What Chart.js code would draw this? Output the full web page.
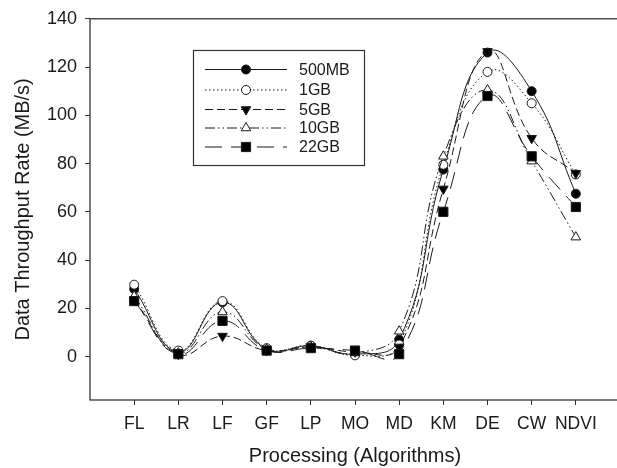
<!DOCTYPE html>
<html><head><meta charset="utf-8">
<script src="https://cdn.jsdelivr.net/npm/chart.js@4.4.0/dist/chart.umd.min.js"></script>
<style>
html,body{margin:0;padding:0;overflow:hidden;background:#fff;width:617px;height:468px}
#wrap{width:630px;height:468px;position:relative}
</style></head>
<body><div id="wrap"><canvas id="c"></canvas></div>
<script>
const categories = ['FL','LR','LF','GF','LP','MO','MD','KM','DE','CW','NDVI'];
const seriesNames = ['500MB','1GB','5GB','10GB','22GB'];
const s500MB = [28, 2, 22.5, 3, 4.5, 1, 7, 77.5, 126, 110, 67.5];
const s1GB   = [29.8, 2.5, 23, 3.5, 4.5, 0.5, 5, 79.5, 118, 105, 75.5];
const s5GB   = [23.5, 1, 8.5, 2.5, 4, 2, 4, 69.5, 126.5, 90.5, 76];
const s10GB  = [25, 1.5, 18.5, 3, 4, 1.5, 10.5, 83, 110.5, 81, 49.5];
const s22GB  = [23, 1, 14.8, 2.5, 3.5, 2.5, 1, 60, 108, 83, 62];
const yTicks = [0, 20, 40, 60, 80, 100, 120, 140];

const seriesValues = [s500MB, s1GB, s5GB, s10GB, s22GB];
const styles = [
  {dash: [], ps: 'circle', fill: '#000', r: 4.5, rot: 0},
  {dash: [1.5, 2.5], ps: 'circle', fill: '#fff', r: 4.5, rot: 0},
  {dash: [8, 4], ps: 'triangle', fill: '#000', r: 5.5, rot: 180},
  {dash: [10, 3, 1.5, 3, 1.5, 3], ps: 'triangle', fill: '#fff', r: 5.5, rot: 0},
  {dash: [17, 9], ps: 'rect', fill: '#000', r: 6.5, rot: 0}
];
const FONT = "'Liberation Sans', Arial, sans-serif";
const INK = '#1a1a1a';

const datasets = seriesNames.map((name, i) => ({
  label: name,
  data: seriesValues[i].map((v, j) => ({x: j + 1, y: v})),
  borderColor: INK,
  borderWidth: 1,
  borderDash: styles[i].dash,
  backgroundColor: styles[i].fill,
  pointBackgroundColor: styles[i].fill,
  pointBorderColor: INK,
  pointBorderWidth: 1,
  pointStyle: styles[i].ps,
  pointRotation: styles[i].rot,
  pointRadius: styles[i].r,
  pointHoverRadius: styles[i].r,
  tension: 0.45,
  fill: false,
  order: -i
}));

function marker(ctx, st, x, y) {
  ctx.save();
  ctx.setLineDash([]);
  ctx.fillStyle = st.fill;
  ctx.strokeStyle = INK;
  ctx.lineWidth = 1;
  ctx.beginPath();
  const r = st.r;
  if (st.ps === 'circle') {
    ctx.arc(x, y, r, 0, Math.PI * 2);
  } else if (st.ps === 'rect') {
    const s = Math.SQRT1_2 * r;
    ctx.rect(x - s, y - s, 2 * s, 2 * s);
  } else {
    let rad = st.rot * Math.PI / 180;
    ctx.moveTo(x + Math.sin(rad) * r, y - Math.cos(rad) * r);
    rad += 2 * Math.PI / 3;
    ctx.lineTo(x + Math.sin(rad) * r, y - Math.cos(rad) * r);
    rad += 2 * Math.PI / 3;
    ctx.lineTo(x + Math.sin(rad) * r, y - Math.cos(rad) * r);
    ctx.closePath();
  }
  ctx.fill();
  ctx.stroke();
  ctx.restore();
}

const framePlugin = {
  id: 'frame',
  beforeDatasetsDraw(chart) {
    const {ctx, chartArea: a} = chart;
    ctx.save();
    ctx.strokeStyle = '#333';
    ctx.lineWidth = 1.3;
    ctx.strokeRect(a.left, a.top, a.right - a.left, a.bottom - a.top);
    ctx.restore();
  }
};

const legendPlugin = {
  id: 'boxLegend',
  afterDatasetsDraw(chart) {
    const ctx = chart.ctx;
    ctx.save();
    ctx.fillStyle = '#fff';
    ctx.fillRect(193.5, 50.5, 171, 115);
    ctx.strokeStyle = '#333';
    ctx.lineWidth = 1.2;
    ctx.strokeRect(193.5, 50.5, 171, 115);
    const ys = [69.5, 90, 109.5, 128, 147];
    seriesNames.forEach((name, i) => {
      const y = ys[i];
      ctx.strokeStyle = INK;
      ctx.lineWidth = 1;
      ctx.setLineDash(styles[i].dash);
      ctx.beginPath();
      ctx.moveTo(205, y);
      ctx.lineTo(287, y);
      ctx.stroke();
      ctx.setLineDash([]);
      marker(ctx, styles[i], 246, y);
      ctx.fillStyle = INK;
      ctx.font = "16px " + FONT;
      ctx.textBaseline = 'middle';
      ctx.textAlign = 'left';
      ctx.fillText(name, 299, y + 1);
    });
    ctx.restore();
  }
};

new Chart(document.getElementById('c'), {
  type: 'line',
  data: {datasets},
  plugins: [framePlugin, legendPlugin],
  options: {
    responsive: true,
    maintainAspectRatio: false,
    animation: false,
    events: [],
    layout: {padding: {top: 16, right: 10, bottom: 0, left: 0}},
    plugins: {legend: {display: false}, tooltip: {enabled: false}},
    scales: {
      x: {
        type: 'linear',
        min: 0, max: 12,
        afterBuildTicks: ax => { ax.ticks = categories.map((c, i) => ({value: i + 1})); },
        afterFit: ax => { ax.height = 68; },
        ticks: {
          autoSkip: false, maxRotation: 0, padding: 9,
          color: INK, font: {family: FONT, size: 17.5},
          callback: v => categories[v - 1] || ''
        },
        grid: {display: true, drawOnChartArea: false, drawTicks: true, tickLength: 5, color: '#333'},
        border: {display: false},
        title: {display: true, text: 'Processing (Algorithms)', color: INK,
          font: {family: FONT, size: 20}, padding: {top: 0, bottom: 0}}
      },
      y: {
        type: 'linear',
        min: -18, max: 140,
        afterBuildTicks: ax => { ax.ticks = yTicks.map(v => ({value: v})); },
        afterFit: ax => { ax.width = 90; },
        ticks: {padding: 8, color: INK, font: {family: FONT, size: 18}},
        grid: {display: true, drawOnChartArea: false, drawTicks: true, tickLength: 5, color: '#333'},
        border: {display: false},
        title: {display: true, text: 'Data Throughput Rate (MB/s)', color: INK,
          font: {family: FONT, size: 20}, padding: {top: 11, bottom: 0}}
      }
    }
  }
});
</script>
</body></html>
